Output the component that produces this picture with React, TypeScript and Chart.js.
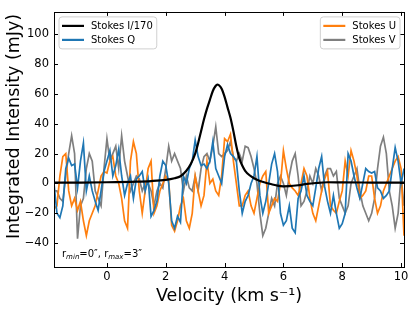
import React, { useEffect, useRef } from "react";
import { Chart, registerables } from "chart.js";

Chart.register(...registerables);

const velocity = [
  -1.8, -1.7, -1.6, -1.5, -1.4, -1.3, -1.2, -1.1, -1.0, -0.9,
  -0.8, -0.7, -0.6, -0.5, -0.4, -0.3, -0.2, -0.1, 0.0, 0.1,
  0.2, 0.3, 0.4, 0.5, 0.6, 0.7, 0.8, 0.9, 1.0, 1.1,
  1.2, 1.3, 1.4, 1.5, 1.6, 1.7, 1.8, 1.9, 2.0, 2.1,
  2.2, 2.3, 2.4, 2.5, 2.6, 2.7, 2.8, 2.9, 3.0, 3.1,
  3.2, 3.3, 3.4, 3.5, 3.6, 3.7, 3.8, 3.9, 4.0, 4.1,
  4.2, 4.3, 4.4, 4.5, 4.6, 4.7, 4.8, 4.9, 5.0, 5.1,
  5.2, 5.3, 5.4, 5.5, 5.6, 5.7, 5.8, 5.9, 6.0, 6.1,
  6.2, 6.3, 6.4, 6.5, 6.6, 6.7, 6.8, 6.9, 7.0, 7.1,
  7.2, 7.3, 7.4, 7.5, 7.6, 7.7, 7.8, 7.9, 8.0, 8.1,
  8.2, 8.3, 8.4, 8.5, 8.6, 8.7, 8.8, 8.9, 9.0, 9.1,
  9.2, 9.3, 9.4, 9.5, 9.6, 9.7, 9.8, 9.9, 10.0, 10.1,
];

const stokesQ = [
  0, -20, -23, -15, 10, 17, 12, 13, -3, 15,
  27, -5, 5, -5, -12, -18, -5, 8, 15, 22,
  5, 12, 23, 5, -8, 0, 5, -10, 3, 5,
  8, -5, 3, -22, -18, -12, 5, 15, 12, 0,
  -25, -30, -22, -26, 5, 0, 10, 15, 29, 18,
  12, 13, 10, 15, 28, 10, 5, 0, 18, 26,
  20, 18, 15, -5, -20, -12, -8, 0, 5, 18,
  -8, -20, -12, 0, 13, 20, 8, -20, -28, -25,
  -15, -30, -33, -10, -5, 5, -8, -12, -15, -3,
  10, 18, -2, -12, -20, -8, -20, -30, -27, -20,
  20, 15, 5, -3, -10, 0, 10, 8, 7, 8,
  -3, -5, -10, -8, -5, 10, 24, 15, 0, 10,
];

const stokesU = [
  -17, -15, 5, 18, 20, -5, -15, -10, -18, -12,
  -25, -35, -25, -20, -15, -5, 5, 8, 7, 15,
  18, 5, 0, -10, -25, -30, 15, 28, 20, -5,
  -20, -5, 10, 15, -20, -15, -5, 0, 5, 2,
  -28, -32, -25, -15, -10, -25, -30, -20, 5, -5,
  -15, -8, 15, 0, 3, -5, -8, 5, 30, 28,
  33, 15, 0, -15, -15, -8, -5, -15, -20, -10,
  0, 5, 8, -20, -15, -10, -12, 0, 22, 10,
  0, -3, -5, -8, 0, 10, 5, -10, -20, -25,
  -15, -5, 3, 8, -15, -18, -20, -12, -5, 15,
  5, 22, 15, 5, -10, -8, -5, 5, 5, -10,
  -20, -15, -5, 0, 5, 10, 15, 18, 10, -35,
];

const stokesV = [
  -5, -5, -10, -12, 5, 20, 32, 20, -37, -15,
  -10, 10, 20, 15, -5, -10, -15, 10, 30, 15,
  20, 25, 10, 32, 15, 5, -5, 0, 5, 3,
  -5, 0, 0, -5, -15, -5, 0, -3, 10, 25,
  15, 20, 15, 10, -5, 5, -3, -5, 5, -5,
  10, 18, 20, 15, 25, 38, 20, 18, 20, 22,
  28, 18, 15, 20, 15, 25, 24, 18, 10, 0,
  -20, -35, -30, -20, -10, -15, 0, 5, 0, -8,
  5, 15, 20, 5, -15, -12, -5, 5, 0, 10,
  5, -5, 5, 10, 10, 5, 8, -10, -15, -20,
  -15, 0, 5, 10, -5, -15, -20, -25, -20, -10,
  10, 25, 31, 20, -5, -15, -30, -20, 5, -15,
];

const iVelocity = [
  -1.8, -1.0, 0.0, 1.0, 1.5, 2.0, 2.3, 2.5, 2.7, 2.85, 3.0, 3.1, 3.2, 3.3, 3.4,
  3.5, 3.6, 3.7, 3.75, 3.8, 3.9, 4.0, 4.1, 4.2, 4.3, 4.4, 4.5, 4.6, 4.7, 4.85,
  5.0, 5.2, 5.4, 5.6, 5.8, 6.0, 6.2, 6.5, 6.8, 7.1, 7.5, 8.0, 9.0, 10.1,
];
const stokesI170 = [
  0.5, 0.6, 0.8, 1.2, 1.6, 2.4, 3.5, 4.8, 8.5, 13, 20, 27, 35, 43, 50,
  56, 62, 65.5, 66.3, 66, 63.5, 58, 51, 44, 35, 25, 17, 12, 8.5, 5.5,
  3.5, 1.6, 0.5, -0.5, -1.5, -1.9, -1.8, -1.2, -0.3, 0.3, 0.8, 0.7, 0.6, 0.5,
];

const xTicks = [0, 2, 4, 6, 8, 10];
const yTicks = [-40, -20, 0, 20, 40, 60, 80, 100];

const labelI = "Stokes I/170";
const labelQ = "Stokes Q";
const labelU = "Stokes U";
const labelV = "Stokes V";
const yTitle = "Integrated Intensity (mJy)";

const FONT = "'DejaVu Sans', sans-serif";

const frameTicksPlugin = {
  id: "frameTicks",
  afterDatasetsDraw(chart: any) {
    const { ctx, chartArea: a, scales } = chart;
    ctx.save();
    ctx.strokeStyle = "#000";
    ctx.lineWidth = 1;
    const L = 4;
    ctx.beginPath();
    for (const v of xTicks) {
      const px = Math.round(scales.x.getPixelForValue(v)) + 0.5;
      ctx.moveTo(px, a.bottom);
      ctx.lineTo(px, a.bottom - L);
      ctx.moveTo(px, a.top);
      ctx.lineTo(px, a.top + L);
    }
    for (const v of yTicks) {
      const py = Math.round(scales.y.getPixelForValue(v)) + 0.5;
      ctx.moveTo(a.left, py);
      ctx.lineTo(a.left + L, py);
      ctx.moveTo(a.right, py);
      ctx.lineTo(a.right - L, py);
    }
    ctx.stroke();
    ctx.strokeRect(Math.round(a.left) + 0.5, Math.round(a.top) + 0.5, Math.round(a.right - a.left), Math.round(a.bottom - a.top));
    ctx.restore();
  },
};

function drawLegendBox(ctx: any, items: any[], left: number, top: number, right: number | null) {
  ctx.font = `10px ${FONT}`;
  const maxW = Math.max(...items.map((it) => ctx.measureText(it.label).width));
  const w = 3 + 22 + 7 + maxW + 4;
  const h = 32;
  const x0 = right !== null ? right - w : left;
  ctx.save();
  ctx.beginPath();
  const r = 3;
  ctx.moveTo(x0 + r, top);
  ctx.lineTo(x0 + w - r, top);
  ctx.quadraticCurveTo(x0 + w, top, x0 + w, top + r);
  ctx.lineTo(x0 + w, top + h - r);
  ctx.quadraticCurveTo(x0 + w, top + h, x0 + w - r, top + h);
  ctx.lineTo(x0 + r, top + h);
  ctx.quadraticCurveTo(x0, top + h, x0, top + h - r);
  ctx.lineTo(x0, top + r);
  ctx.quadraticCurveTo(x0, top, x0 + r, top);
  ctx.closePath();
  ctx.fillStyle = "rgba(255,255,255,0.8)";
  ctx.fill();
  ctx.strokeStyle = "#d0d0d0";
  ctx.lineWidth = 1;
  ctx.stroke();
  items.forEach((it, i) => {
    const cy = top + 9 + i * 14;
    ctx.strokeStyle = it.color;
    ctx.lineWidth = 2.2;
    ctx.beginPath();
    ctx.moveTo(x0 + 3, cy);
    ctx.lineTo(x0 + 25, cy);
    ctx.stroke();
    ctx.fillStyle = "#000";
    ctx.textBaseline = "middle";
    ctx.textAlign = "left";
    ctx.fillText(it.label, x0 + 32, cy + 0.5);
  });
  ctx.restore();
}

const legendsPlugin = {
  id: "twoLegends",
  afterDraw(chart: any) {
    const { ctx, chartArea: a } = chart;
    const ds = chart.data.datasets;
    const item = (d: any) => ({ label: d.label, color: d.borderColor, width: d.borderWidth });
    const byLabel = (l: string) => ds.find((d: any) => d.label === l);
    drawLegendBox(ctx, [item(byLabel(labelI)), item(byLabel(labelQ))], a.left + 5, a.top + 5, null);
    drawLegendBox(ctx, [item(byLabel(labelU)), item(byLabel(labelV))], 0, a.top + 5, a.right - 4);
  },
};

const annotationPlugin = {
  id: "rAnnotation",
  afterDraw(chart: any) {
    const { ctx, chartArea: a } = chart;
    ctx.save();
    ctx.fillStyle = "#000";
    ctx.textBaseline = "alphabetic";
    ctx.textAlign = "left";
    let x = a.left + 8;
    const y = a.bottom - 10;
    const parts: [string, boolean][] = [
      ["r", false], ["min", true], ["=0\u2033, r", false], ["max", true], ["=3\u2033", false],
    ];
    for (const [t, sub] of parts) {
      ctx.font = sub ? `italic 7px ${FONT}` : `10px ${FONT}`;
      ctx.fillText(t, x, sub ? y + 2 : y);
      x += ctx.measureText(t).width;
    }
    // y-axis title
    ctx.font = `17.5px ${FONT}`;
    ctx.textAlign = "center";
    ctx.textBaseline = "middle";
    ctx.translate(14, (a.top + a.bottom) / 2 - 13);
    ctx.rotate(-Math.PI / 2);
    ctx.fillText(yTitle, 0, 0);
    ctx.restore();
  },
};

export default function App() {
  const ref = useRef<HTMLCanvasElement | null>(null);
  useEffect(() => {
    if (!ref.current) return;
    const pts = (xs: number[], ys: number[]) => xs.map((x, i) => ({ x, y: ys[i] }));
    const chart = new Chart(ref.current, {
      type: "line",
      data: {
        datasets: [
          { label: labelI, data: pts(iVelocity, stokesI170), borderColor: "#000000", borderWidth: 2.2, pointRadius: 0, cubicInterpolationMode: "monotone", fill: false },
          { label: labelQ, data: pts(velocity, stokesQ), borderColor: "#1f77b4", borderWidth: 1.7, pointRadius: 0, tension: 0, fill: false },
          { label: labelU, data: pts(velocity, stokesU), borderColor: "#ff7f0e", borderWidth: 1.7, pointRadius: 0, tension: 0, fill: false },
          { label: labelV, data: pts(velocity, stokesV), borderColor: "#7f7f7f", borderWidth: 1.7, pointRadius: 0, tension: 0, fill: false },
        ],
      },
      options: {
        responsive: false,
        animation: false,
        layout: { padding: { top: 6, right: 12, left: 0, bottom: 0 } },
        plugins: { legend: { display: false }, tooltip: { enabled: false } },
        scales: {
          x: {
            type: "linear",
            min: -1.8,
            max: 10.1,
            grid: { display: false, drawTicks: false },
            border: { display: false },
            afterBuildTicks: (s: any) => { s.ticks = xTicks.map((v) => ({ value: v })); },
            afterFit: (s: any) => { s.height = 45; },
            ticks: { color: "#000", font: { family: FONT, size: 11.5 }, padding: 3, maxRotation: 0, callback: (v: any) => String(v) },
            title: { display: true, text: "Velocity (km s\u207B\u00B9)", color: "#000", font: { family: FONT, size: 17.5 }, padding: { top: 2, bottom: 5 } },
          },
          y: {
            type: "linear",
            min: -56,
            max: 115,
            grid: { display: false, drawTicks: false },
            border: { display: false },
            afterBuildTicks: (s: any) => { s.ticks = yTicks.map((v) => ({ value: v })); },
            afterFit: (s: any) => { s.width = 54; },
            ticks: { color: "#000", font: { family: FONT, size: 11.5 }, padding: 5, callback: (v: any) => (v < 0 ? "\u2212" + Math.abs(v) : String(v)) },
            title: { display: false },
          },
        },
      },
      plugins: [frameTicksPlugin, legendsPlugin, annotationPlugin],
    } as any);
    return () => chart.destroy();
  }, []);
  return (
    <div style={{ position: "fixed", left: 0, top: 0, width: 416, height: 312, background: "#fff" }}>
      <canvas ref={ref} width={416} height={312} style={{ display: "block" }} />
    </div>
  );
}
